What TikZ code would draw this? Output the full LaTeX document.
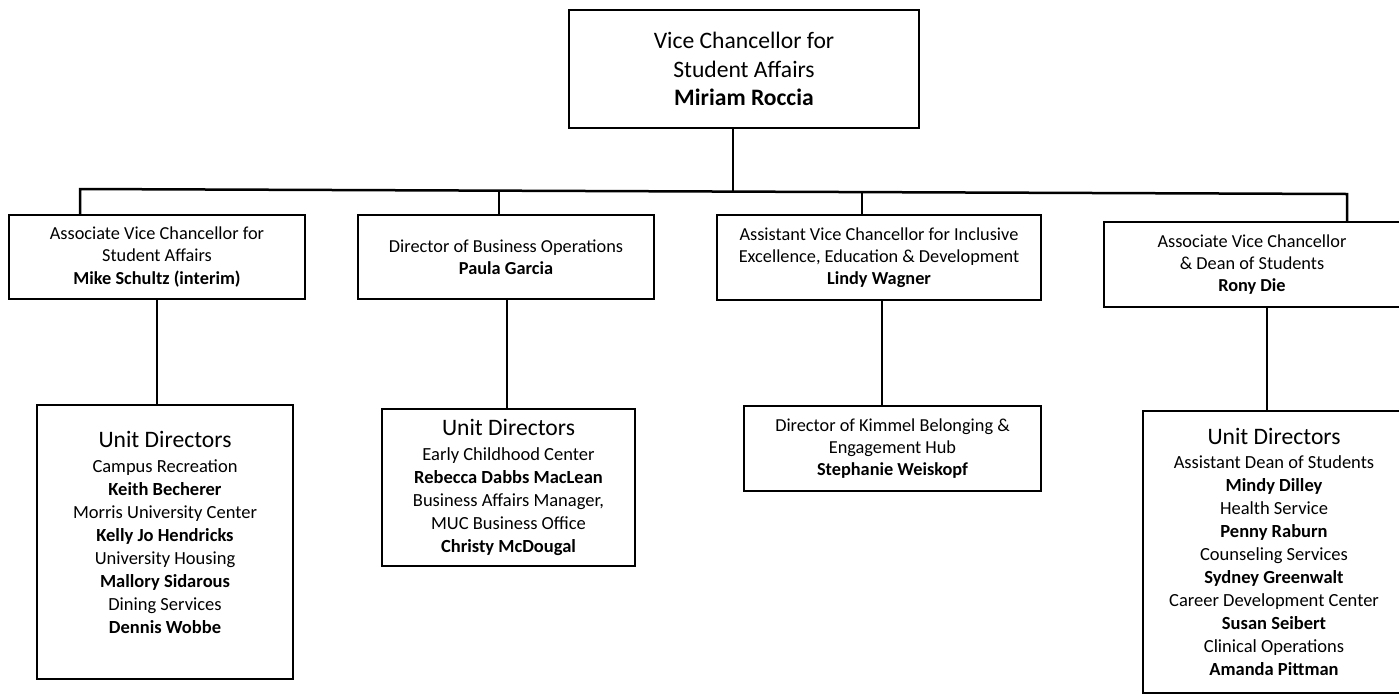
\documentclass[tikz,border=0pt]{standalone}
\usepackage{fontspec}
\setmainfont{Carlito}
\begin{document}
\begin{tikzpicture}[x=1pt,y=-1pt,
  box/.style={draw, line width=2pt, align=center, inner sep=0pt, anchor=center},
  conn/.style={line width=2.5pt},
  tfont/.style={font=\fontsize{23.6}{28.5}\selectfont},
  hfont/.style={font=\fontsize{18.3}{22.3}\selectfont},
  ufont/.style={font=\fontsize{18.5}{23}\selectfont}]
\useasboundingbox (0,0) rectangle (1399,694);

% top
\node[box,tfont,minimum width=350pt,minimum height=118pt] (vc) at (744,69)
  {Vice Chancellor for\\Student Affairs\\\textbf{Miriam Roccia}};

% second level
\node[box,hfont,minimum width=296pt,minimum height=84pt] (h1) at (157,257)
  {Associate Vice Chancellor for\\Student Affairs\\\textbf{Mike Schultz (interim)}};
\node[box,hfont,minimum width=296pt,minimum height=84pt] (h2) at (506,257)
  {Director of Business Operations\\\textbf{Paula Garcia}};
\node[box,hfont,minimum width=324pt,minimum height=85pt] (h3) at (879,257.5)
  {Assistant Vice Chancellor for Inclusive\\Excellence, Education \& Development\\\textbf{Lindy Wagner}};
\node[box,hfont,minimum width=296pt,minimum height=85pt] (h4) at (1252,264.5)
  {Associate Vice Chancellor\\\& Dean of Students\\\textbf{Rony Die}};

% third level
\node[box,ufont,minimum width=256pt,minimum height=274pt] (u1) at (165,542)
  {{\fontsize{23.6}{26}\selectfont Unit Directors}\\[2pt]
   Campus Recreation\\\textbf{Keith Becherer}\\
   Morris University Center\\\textbf{Kelly Jo Hendricks}\\
   University Housing\\\textbf{Mallory Sidarous}\\
   Dining Services\\\textbf{Dennis Wobbe}\\[-4pt]\mbox{}};
\node[box,ufont,minimum width=253pt,minimum height=157pt] (u2) at (508.5,487.5)
  {{\fontsize{23.6}{26}\selectfont Unit Directors}\\[2pt]
   Early Childhood Center\\\textbf{Rebecca Dabbs MacLean}\\
   Business Affairs Manager,\\MUC Business Office\\\textbf{Christy McDougal}};
\node[box,hfont,minimum width=297pt,minimum height=85pt] (u3) at (892.5,448.5)
  {Director of Kimmel Belonging \&\\Engagement Hub\\\textbf{Stephanie Weiskopf}};
\node[box,ufont,minimum width=262pt,minimum height=282pt] (u4) at (1274,552)
  {{\fontsize{23.6}{26}\selectfont Unit Directors}\\[1pt]
   Assistant Dean of Students\\\textbf{Mindy Dilley}\\
   Health Service\\\textbf{Penny Raburn}\\
   Counseling Services\\\textbf{Sydney Greenwalt}\\
   Career Development Center\\\textbf{Susan Seibert}\\
   Clinical Operations\\\textbf{Amanda Pittman}};

% bus and drops
\coordinate (bl) at (80,189);
\coordinate (br) at (1347,194);
\coordinate (bt) at (733,191.6);
\coordinate (b2) at (499,190.7);
\coordinate (b3) at (862,192.1);
\draw[conn] (h1.north -| bl) -- (bl) -- (br) -- (h4.north -| br);
\draw[conn] (vc.south -| bt) -- (bt);
\draw[conn] (b2) -- (h2.north -| b2);
\draw[conn] (b3) -- (h3.north -| b3);

% lower connectors
\coordinate (l1) at (157,0);
\coordinate (l2) at (507,0);
\coordinate (l3) at (882,0);
\coordinate (l4) at (1267,0);
\draw[conn] (h1.south -| l1) -- (u1.north -| l1);
\draw[conn] (h2.south -| l2) -- (u2.north -| l2);
\draw[conn] (h3.south -| l3) -- (u3.north -| l3);
\draw[conn] (h4.south -| l4) -- (u4.north -| l4);
\end{tikzpicture}
\end{document}
